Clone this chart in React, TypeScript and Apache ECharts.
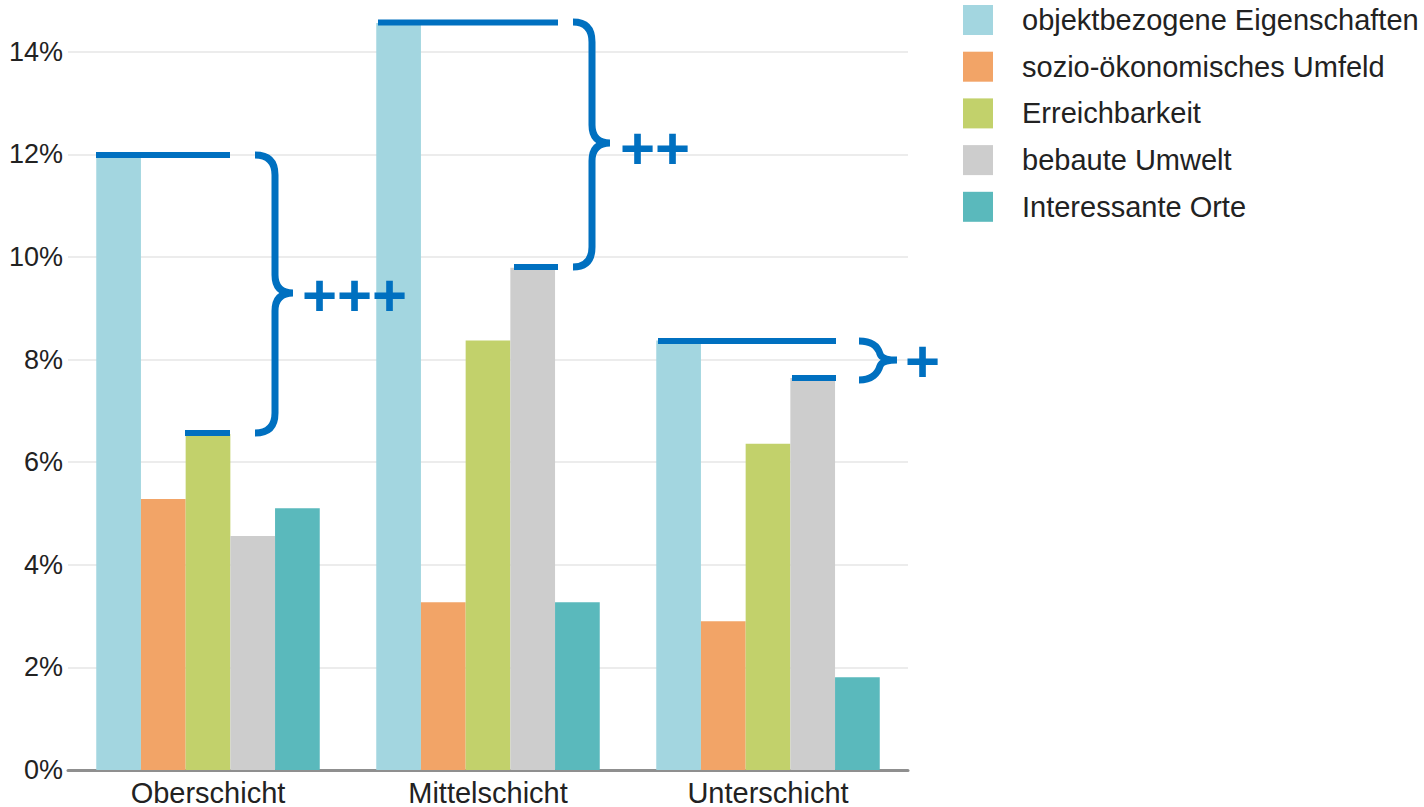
import React, { useEffect, useRef } from "react";
import * as echarts from "echarts";

const categories = ["Oberschicht", "Mittelschicht", "Unterschicht"];
const seriesNames = [
  "objektbezogene Eigenschaften",
  "sozio-ökonomisches Umfeld",
  "Erreichbarkeit",
  "bebaute Umwelt",
  "Interessante Orte",
];
const objektbezogene = [12.0, 14.56, 8.37];
const soziooekonomisch = [5.28, 3.27, 2.9];
const erreichbarkeit = [6.55, 8.37, 6.36];
const bebauteUmwelt = [4.56, 9.79, 7.64];
const interessanteOrte = [5.1, 3.27, 1.81];
const seriesColors = ["#A3D6E0", "#F2A467", "#C2D16B", "#CDCDCD", "#5AB9BC"];
const significance = ["+++", "++", "+"];

const BLUE = "#0070C0";
const FONT = "'Liberation Sans', Arial, Helvetica, sans-serif";

echarts.graphic.registerShape(
  "brace1",
  echarts.graphic.extendPath(
    "M255,155 Q275,155 275,175 L275,275 Q275,293 293,293 Q275,293 275,311 L275,413 Q275,433 255,433",
    {}
  )
);
echarts.graphic.registerShape(
  "brace2",
  echarts.graphic.extendPath(
    "M573,22 Q592,22 592,42 L592,125 Q592,143 610,143 Q592,143 592,161 L592,247 Q592,267 573,267",
    {}
  )
);
echarts.graphic.registerShape(
  "brace3",
  echarts.graphic.extendPath(
    "M859,341 C872,341 878,347 880,354 Q882,360 897,360 Q882,360 880,366 C878,373 872,380 859,380",
    {}
  )
);

export default function App() {
  const ref = useRef<HTMLDivElement>(null);
  useEffect(() => {
    if (!ref.current) return;
    const chart = echarts.init(ref.current, null, { renderer: "svg" });
    const values = [objektbezogene, soziooekonomisch, erreichbarkeit, bebauteUmwelt, interessanteOrte];
    const lineStyle = { stroke: BLUE, lineWidth: 6 };
    const braceStyle = { stroke: BLUE, lineWidth: 7, fill: "none" };
    const plusStyle = (x: number, y: number, t: string) => ({
      type: "text",
      x,
      y,
      z: 100,
      style: {
        text: t,
        fill: BLUE,
        font: `bold 60px ${FONT}`,
        textAlign: "left",
        textVerticalAlign: "middle",
      },
    });
    const ln = (x1: number, y1: number, x2: number, y2: number) => ({
      type: "line",
      z: 100,
      shape: { x1, y1, x2, y2 },
      style: lineStyle,
    });
    chart.setOption({
      animation: false,
      backgroundColor: "#ffffff",
      grid: { left: 68, top: 51.7, width: 840, height: 719, containLabel: false },
      legend: {
        orient: "vertical",
        left: 958,
        top: 0,
        itemWidth: 30,
        itemHeight: 30,
        itemGap: 16.7,
        icon: "rect",
        data: seriesNames,
        textStyle: {
          fontFamily: FONT,
          fontSize: 29,
          color: "#222",
          lineHeight: 30,
          padding: [0, 0, 0, 24],
        },
      },
      xAxis: {
        type: "category",
        data: categories,
        axisTick: { show: false },
        axisLine: { lineStyle: { color: "#8f8f8f", width: 3 } },
        axisLabel: { fontFamily: FONT, fontSize: 29, color: "#222", margin: 8 },
      },
      yAxis: {
        type: "value",
        min: 0,
        max: 14,
        interval: 2,
        axisLine: { show: false },
        axisTick: { show: false },
        splitLine: { lineStyle: { color: "#ececec", width: 2 } },
        axisLabel: {
          fontFamily: FONT,
          fontSize: 27,
          color: "#222",
          margin: 5,
          formatter: "{value}%",
        },
      },
      series: seriesNames.map((name, i) => ({
        name,
        type: "bar",
        data: values[i],
        barWidth: 44.7,
        barGap: "0%",
        clip: false,
        itemStyle: { color: seriesColors[i] },
      })),
      graphic: [
        ln(96, 155, 230, 155),
        ln(185, 433, 230, 433),
        { type: "brace1", z: 100, style: braceStyle },
        plusStyle(302, 295, significance[0]),
        ln(378, 22.5, 558, 22.5),
        ln(514, 267, 558, 267),
        { type: "brace2", z: 100, style: braceStyle },
        plusStyle(620, 148, significance[1]),
        ln(658, 341, 836, 341),
        ln(792, 378, 836, 378),
        { type: "brace3", z: 100, style: braceStyle },
        plusStyle(905, 361, significance[2]),
      ],
    });
    return () => chart.dispose();
  }, []);
  return (
    <div
      ref={ref}
      style={{ position: "fixed", left: 0, top: 0, width: 1424, height: 807, background: "#fff" }}
    />
  );
}
